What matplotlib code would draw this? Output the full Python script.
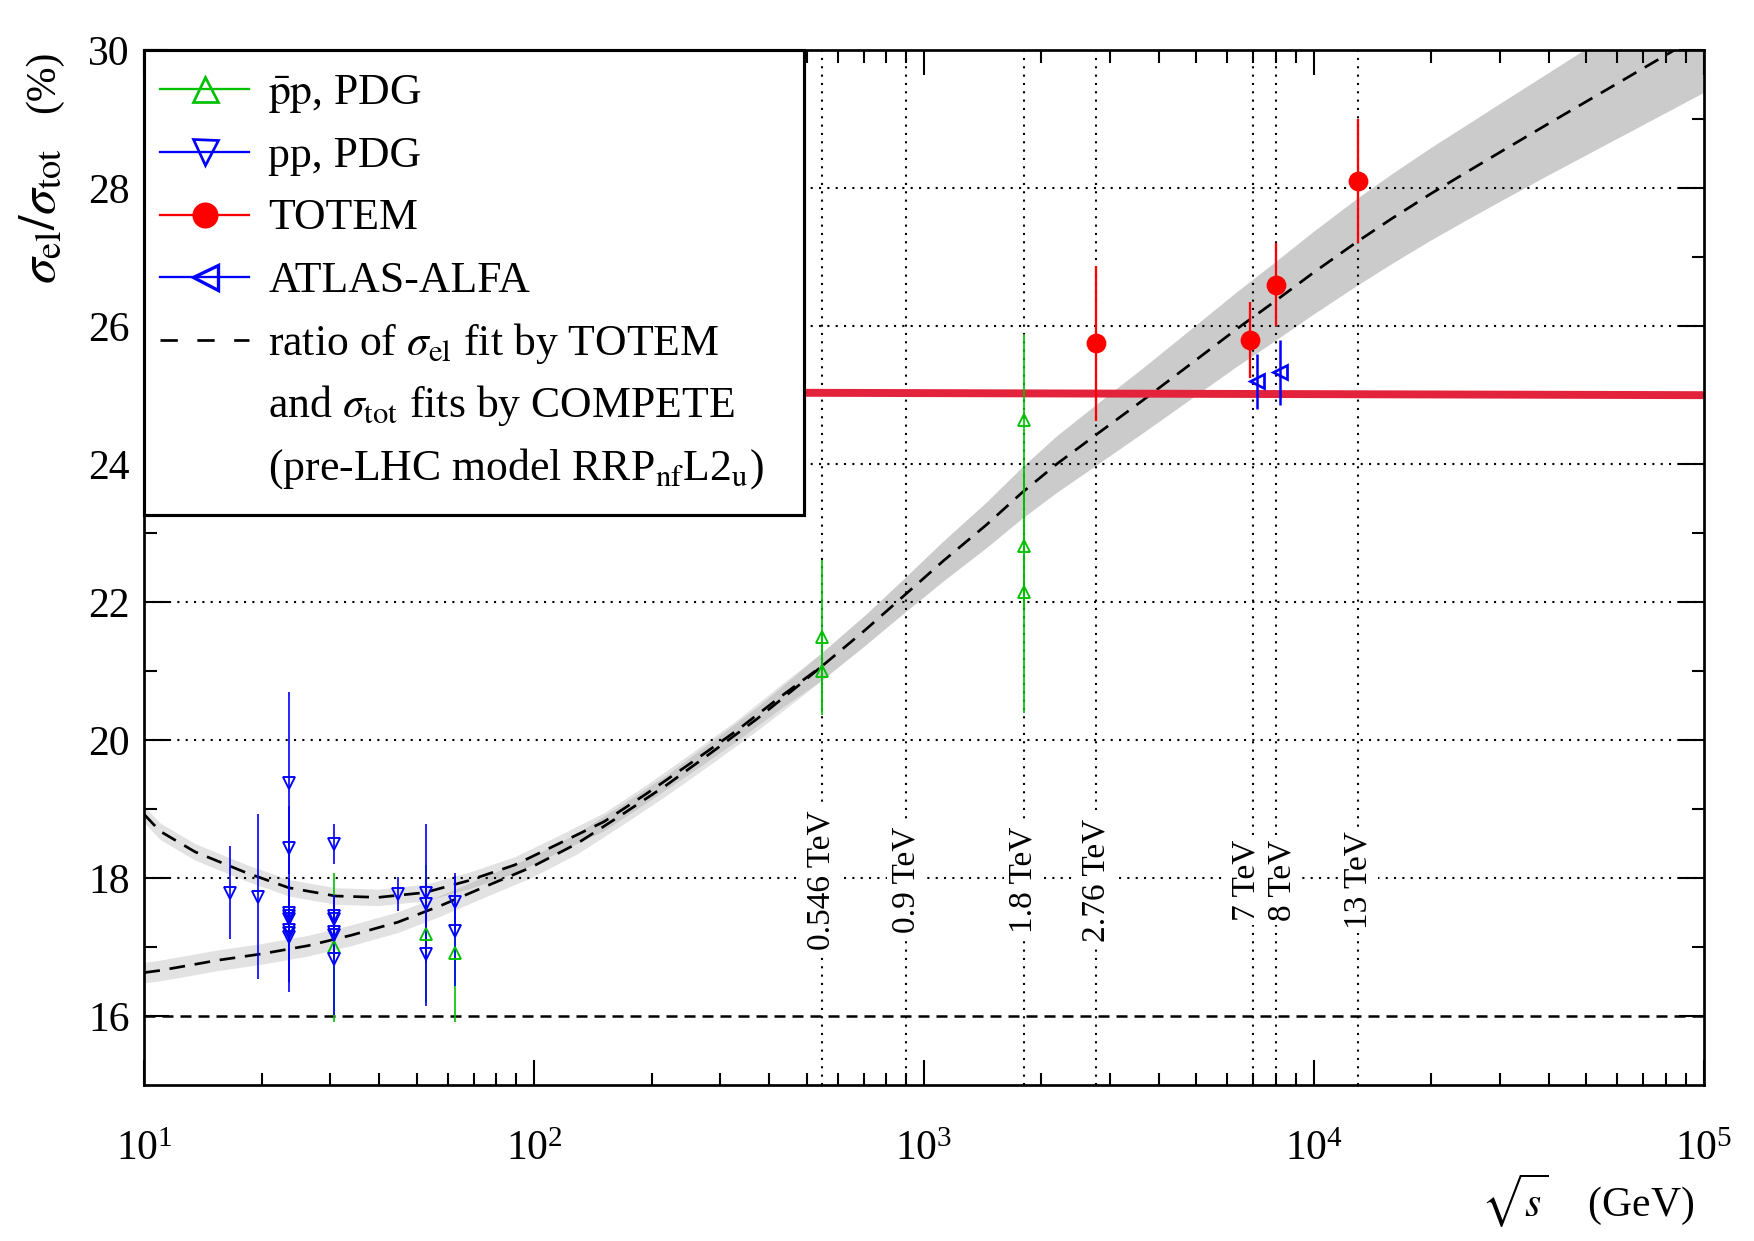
import numpy as np
import matplotlib
matplotlib.use("Agg")
import matplotlib.pyplot as plt
from matplotlib.patches import Rectangle
from matplotlib.ticker import FixedLocator, LogLocator, NullFormatter

plt.rcParams['font.family'] = ['Liberation Serif', 'DejaVu Serif']
plt.rcParams['mathtext.fontset'] = 'stix'

# ---------------- data ----------------
# pp, PDG  (sqrt(s) in GeV, sigma_el/sigma_tot in %)
pp_sqrt_s = [16.6, 19.6, 23.5, 23.5, 23.5, 23.5, 23.5, 23.5, 23.5, 23.5,
             30.6, 30.6, 30.6, 30.6, 30.6, 30.6, 44.7, 52.8, 52.8, 52.8, 62.5, 62.5]
pp_ratio = [17.79, 17.73, 19.38, 18.44, 17.50, 17.45, 17.40, 17.25, 17.20, 17.15,
            18.50, 17.45, 17.40, 17.22, 17.17, 16.82, 17.77, 17.78, 17.63, 16.90, 17.65, 17.23]
pp_err = [0.67, 1.20, 1.32, 0.60, 0.50, 0.45, 0.55, 0.60, 0.70, 0.80,
          0.29, 0.30, 0.35, 0.30, 0.35, 0.80, 0.25, 1.00, 0.35, 0.75, 0.42, 0.80]

# pbar-p, PDG
ppbar_sqrt_s = [30.6, 52.8, 62.5, 546, 546, 1800, 1800, 1800]
ppbar_ratio = [17.00, 17.19, 16.92, 21.49, 21.00, 24.64, 22.82, 22.14]
ppbar_err = [1.08, 1.00, 1.00, 1.12, 0.60, 1.25, 0.90, 1.75]

# TOTEM
totem_sqrt_s = [2760, 7000, 8000, 13000]
totem_ratio = [25.75, 25.80, 26.60, 28.10]
totem_err = [1.12, 0.55, 0.60, 0.90]

# ATLAS-ALFA
alfa_sqrt_s = [7000, 8000]
alfa_ratio = [25.20, 25.33]
alfa_err = [0.40, 0.47]

# fit curves: log10(sqrt(s)/GeV) and ratio, with band half-widths
fit_pp_log10_s = [1.00, 1.04, 1.13, 1.26, 1.37, 1.49, 1.60, 1.72, 1.83, 1.95, 2.06, 2.18,
                  2.29, 2.40, 2.52, 2.63, 2.74, 2.85, 2.95, 3.05, 3.16, 3.25, 3.34, 3.44,
                  3.56, 3.70, 3.80, 3.90, 4.00, 4.11, 4.20, 4.30, 4.40, 4.48, 4.60, 4.70,
                  4.80, 4.90, 5.00]
fit_pp_ratio = [18.92, 18.68, 18.38, 18.08, 17.86, 17.74, 17.72, 17.79, 17.96, 18.19, 18.49, 18.82,
                19.23, 19.66, 20.14, 20.62, 21.08, 21.60, 22.10, 22.60, 23.12, 23.58, 24.00, 24.42,
                24.92, 25.52, 25.95, 26.36, 26.78, 27.22, 27.56, 27.92, 28.26, 28.53, 28.93, 29.26,
                29.59, 29.92, 30.25]
fit_pp_band = [0.12, 0.12, 0.12, 0.12, 0.12, 0.12, 0.12, 0.12, 0.12, 0.12, 0.12, 0.13,
               0.13, 0.14, 0.15, 0.17, 0.20, 0.22, 0.25, 0.29, 0.33, 0.37, 0.41, 0.44,
               0.47, 0.51, 0.54, 0.57, 0.60, 0.63, 0.65, 0.67, 0.69, 0.71, 0.74, 0.77,
               0.80, 0.83, 0.86]

fit_ppbar_log10_s = [1.00, 1.04, 1.19, 1.30, 1.42, 1.53, 1.65, 1.76, 1.88, 1.99, 2.11, 2.22,
                     2.34, 2.45, 2.57, 2.68, 2.74]
fit_ppbar_ratio = [16.63, 16.66, 16.81, 16.90, 17.02, 17.17, 17.36, 17.60, 17.89, 18.15, 18.50, 18.90,
                   19.35, 19.80, 20.30, 20.80, 21.08]
fit_ppbar_band = [0.15, 0.15, 0.15, 0.15, 0.15, 0.15, 0.15, 0.15, 0.15, 0.15, 0.15, 0.15,
                  0.15, 0.16, 0.17, 0.19, 0.20]

# thick red horizontal line
red_line_sqrt_s = [10, 1e5]
red_line_ratio = [25.06, 25.00]

# energy markers
energy_lines_gev = [546, 900, 1800, 2760, 7000, 8000, 13000]
energy_labels = ["0.546 TeV", "0.9 TeV", "1.8 TeV", "2.76 TeV", "7 TeV", "8 TeV", "13 TeV"]

y_major_ticks = [16, 18, 20, 22, 24, 26, 28, 30]
y_minor_ticks = [17, 19, 21, 23, 25, 27, 29]
y_grid = [18, 20, 22, 24, 26, 28]

legend_labels = [
    r'$\bar{\mathrm{p}}\mathrm{p}$, PDG',
    'pp, PDG',
    'TOTEM',
    'ATLAS-ALFA',
    r'ratio of $\sigma_{\mathrm{el}}$ fit by TOTEM',
    r'and $\sigma_{\mathrm{tot}}$ fits by COMPETE',
    r'(pre-LHC model RRP$_{\mathrm{nf}}$L2$_{\mathrm{u}}$)',
]

# ---------------- style ----------------
GREEN = '#00c000'
BLUE = '#0000ff'
RED = '#ff0000'
CRIMSON = '#e3223c'

fig = plt.figure(figsize=(1754 / 150, 1241 / 150), dpi=150)
ax = fig.add_axes([0.0823, 0.1257, 0.9713 - 0.0823, 0.9595 - 0.1257])
ax.set_xscale('log')

# bands + curves
pp_x = 10 ** np.array(fit_pp_log10_s)
pp_y = np.array(fit_pp_ratio)
pp_b = np.array(fit_pp_band)
n_hi = fit_pp_log10_s.index(2.74)
ppbar_full_x = np.concatenate([10 ** np.array(fit_ppbar_log10_s), pp_x[n_hi + 1:]])
ppbar_full_y = np.concatenate([np.array(fit_ppbar_ratio), pp_y[n_hi + 1:]])
ppbar_full_b = np.concatenate([np.array(fit_ppbar_band), pp_b[n_hi + 1:]])

for x, y, b in [(pp_x, pp_y, pp_b), (ppbar_full_x, ppbar_full_y, ppbar_full_b)]:
    ax.fill_between(x, y - b, y + b, color='0.39', alpha=0.18, lw=0, zorder=1)

ax.plot(pp_x, pp_y, color='k', lw=1.3, dashes=(5.8, 3.6), zorder=2)
ax.plot(10 ** np.array(fit_ppbar_log10_s), fit_ppbar_ratio, color='k', lw=1.3,
        dashes=(5.8, 3.6), zorder=2)

# grid
dot = (0, (1, 3))
for yv in y_grid:
    ax.axhline(yv, color='k', lw=1.0, ls=dot, zorder=1.5)
for xv in energy_lines_gev:
    ax.axvline(xv, color='k', lw=1.0, ls=dot, zorder=1.5)
ax.axhline(16, color='k', lw=1.2, dashes=(4.4, 2.8), zorder=1.5)

# red line
ax.plot(red_line_sqrt_s, red_line_ratio, color=CRIMSON, lw=3.8, solid_capstyle='butt', zorder=2.5)

# energy labels
label_shift = [1.0, 1.0, 1.0, 1.0, 0.96, 1.04, 1.0]
for xv, lab, f in zip(energy_lines_gev, energy_labels, label_shift):
    ax.text(xv * f, 17.97, lab, rotation=90, ha='center', va='center', fontsize=16,
            bbox=dict(facecolor='white', edgecolor='none', pad=2), zorder=3)

# data
ax.errorbar(ppbar_sqrt_s, ppbar_ratio, yerr=ppbar_err, fmt='^', color=GREEN, mfc='none',
            mec=GREEN, ms=5.5, mew=0.9, elinewidth=0.8, capsize=0, zorder=4)
ax.errorbar(pp_sqrt_s, pp_ratio, yerr=pp_err, fmt='v', color=BLUE, mfc='none',
            mec=BLUE, ms=5.5, mew=0.9, elinewidth=0.8, capsize=0, zorder=4)
totem_x = np.array(totem_sqrt_s) * np.array([1.0, 0.979, 1.0, 1.0])
ax.errorbar(totem_x, totem_ratio, yerr=totem_err, fmt='o', color=RED, mfc=RED,
            mec=RED, ms=8.5, elinewidth=1.1, capsize=0, zorder=5)
ax.errorbar(np.array(alfa_sqrt_s) * 1.023, alfa_ratio, yerr=alfa_err, fmt='<', color=BLUE,
            mfc='none', mec=BLUE, ms=6.5, mew=1.3, elinewidth=1.2, capsize=0, zorder=5)

# axes, ticks
ax.set_xlim(10, 1e5)
ax.set_ylim(15, 30)
ax.xaxis.set_major_locator(LogLocator(base=10, numticks=10))
ax.xaxis.set_minor_locator(LogLocator(base=10, subs=np.arange(2, 10), numticks=100))
ax.xaxis.set_minor_formatter(NullFormatter())
ax.yaxis.set_major_locator(FixedLocator(y_major_ticks))
ax.yaxis.set_minor_locator(FixedLocator(y_minor_ticks))
ax.tick_params(which='both', direction='in', top=True, right=True, width=1.0)
ax.tick_params(which='major', length=12)
ax.tick_params(which='minor', length=6)
ax.tick_params(axis='x', which='major', pad=22, labelsize=20)
ax.tick_params(axis='y', which='major', pad=7, labelsize=20)
for sp in ax.spines.values():
    sp.set_linewidth(1.3)

ax.set_xlabel(r'$\sqrt{s}$    (GeV)', fontsize=20, loc='right')
ax.xaxis.set_label_coords(0.994, -0.084)
ax.set_ylabel(r'$\sigma_{\mathrm{el}}/\sigma_{\mathrm{tot}}$', fontsize=25, loc='top')
ax.yaxis.set_label_coords(-0.050, 0.905)
ax.text(-0.052, 1.0, '(%)', transform=ax.transAxes, rotation=90, rotation_mode='anchor',
        ha='right', va='bottom', fontsize=20)

# legend (drawn as a framed box with rows at fixed pitch)
box_right, box_bottom = 0.4232, 0.5513
ax.add_patch(Rectangle((0, box_bottom), box_right, 1 - box_bottom, transform=ax.transAxes,
                       facecolor='white', edgecolor='k', lw=1.5, zorder=10, clip_on=False))
row_y = [0.9621, 0.9016, 0.8410, 0.7805, 0.7199, 0.6594, 0.5989]
h_x0, h_x1, t_x = 0.0101, 0.0673, 0.0796
h_xm = 0.5 * (h_x0 + h_x1)
legend_styles = [
    dict(color=GREEN, marker='^', mfc='none', mec=GREEN, ms=12, mew=1.3),
    dict(color=BLUE, marker='v', mfc='none', mec=BLUE, ms=12, mew=1.3),
    dict(color=RED, marker='o', mfc=RED, mec=RED, ms=11.5),
    dict(color=BLUE, marker='<', mfc='none', mec=BLUE, ms=12, mew=1.6),
]
for yy, st in zip(row_y, legend_styles):
    ax.plot([h_x0, h_x1], [yy, yy], transform=ax.transAxes, color=st['color'], lw=1.1,
            clip_on=False, zorder=11)
    ax.plot([h_xm], [yy], transform=ax.transAxes, ls='none', clip_on=False, zorder=12,
            **{k: v for k, v in st.items() if k != 'color'})
ax.plot([h_x0, h_x1], [row_y[4], row_y[4]], transform=ax.transAxes, color='k', lw=1.3,
        dashes=(6.4, 7.2), clip_on=False, zorder=11)
for yy, lab in zip(row_y, legend_labels):
    ax.text(t_x, yy - 0.014, lab, transform=ax.transAxes, ha='left', va='baseline',
            fontsize=21, zorder=12)

ax.set_xlim(10, 1e5)
ax.set_ylim(15, 30)
fig.savefig('out.png', dpi=150)
